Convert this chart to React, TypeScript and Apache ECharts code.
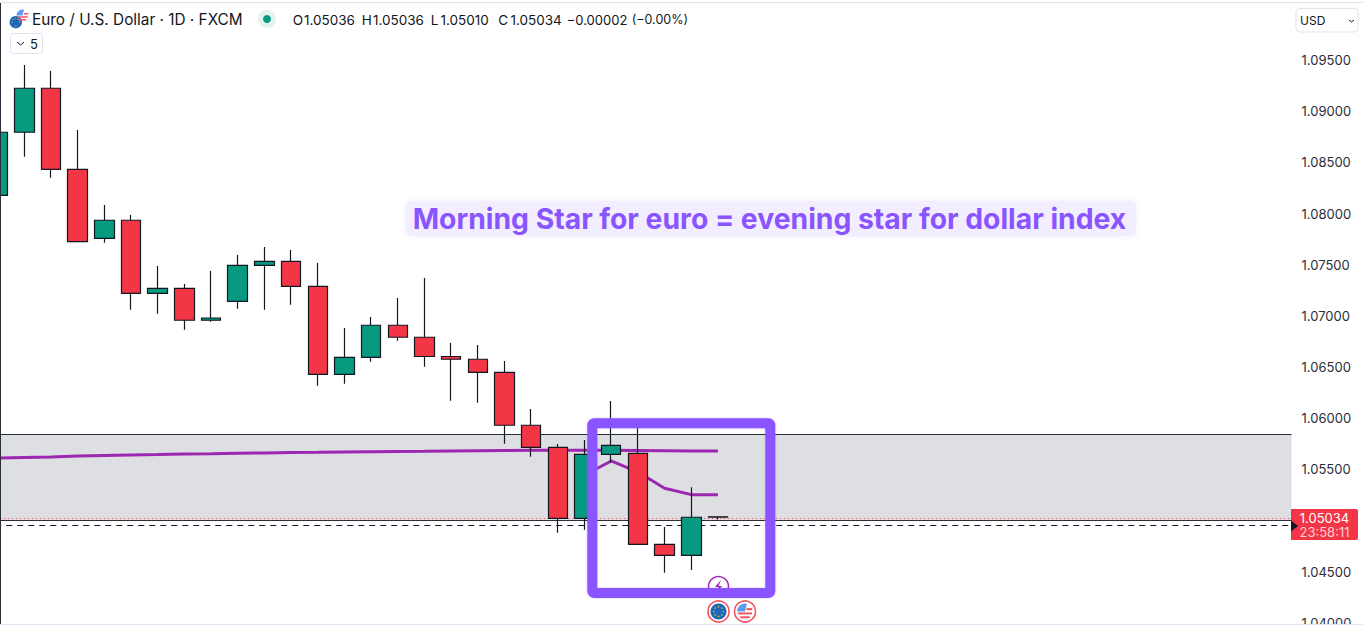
import React, { useEffect, useRef } from "react";
import * as echarts from "echarts";

const TITLE = "Euro / U.S. Dollar · 1D · FXCM";
const NOTE = "Morning Star for euro = evening star for dollar index";
const ohlcLetters = ["O", "H", "L", "C"];
const ohlcValues = ["1.05036", "1.05036", "1.05010", "1.05034"];
const CHANGE = "−0.00002";
const CHANGE_PCT = "(−0.00%)";

const opens = [1.08178, 1.08794, 1.09224, 1.08432, 1.07758, 1.07934, 1.0722, 1.07269, 1.06957, 1.07142, 1.07494, 1.07533, 1.07289, 1.06429, 1.06595, 1.06908, 1.06791, 1.06603, 1.06576, 1.06447, 1.05931, 1.05714, 1.05022, 1.05647, 1.05657, 1.04768, 1.0466, 1.05036];
const closes = [1.08794, 1.09224, 1.08432, 1.07725, 1.07934, 1.0722, 1.07269, 1.06957, 1.06979, 1.07494, 1.07533, 1.07289, 1.06429, 1.06595, 1.06908, 1.06791, 1.06603, 1.06576, 1.06447, 1.05931, 1.05714, 1.05022, 1.05647, 1.05735, 1.04768, 1.0466, 1.05032, 1.05034];
const highs = [1.0885, 1.09451, 1.09393, 1.08816, 1.08083, 1.07986, 1.07487, 1.07311, 1.07438, 1.07595, 1.07673, 1.07644, 1.07517, 1.06881, 1.06989, 1.07175, 1.0737, 1.06735, 1.06715, 1.06559, 1.0609, 1.05748, 1.05787, 1.06168, 1.05943, 1.04937, 1.05325, 1.05036];
const lows = [1.0812, 1.08555, 1.0835, 1.07725, 1.07715, 1.0706, 1.07021, 1.06865, 1.06943, 1.0707, 1.0706, 1.07109, 1.06318, 1.06337, 1.06552, 1.06757, 1.06503, 1.06171, 1.06152, 1.05751, 1.05624, 1.04881, 1.04911, 1.05565, 1.04768, 1.0449, 1.04517, 1.0501];
const slowAverage = [1.05611, 1.05616, 1.05621, 1.05631, 1.05636, 1.05641, 1.05645, 1.0565, 1.05653, 1.05657, 1.0566, 1.05665, 1.05667, 1.0567, 1.05673, 1.05675, 1.05677, 1.0568, 1.05682, 1.05684, 1.05686, 1.05687, 1.05687, 1.05687, 1.05685, 1.05683, 1.0568, 1.0568];
const fastAverage = [null, null, null, null, null, null, null, null, null, null, null, null, null, null, null, null, null, null, null, null, null, null, 1.05445, 1.05582, 1.05474, 1.05315, 1.05253, 1.05253];
const tickValues = [1.04, 1.045, 1.055, 1.06, 1.065, 1.07, 1.075, 1.08, 1.085, 1.09, 1.095];
const ZONE_TOP = 1.05846;
const ZONE_BOTTOM = 1.04998;
const DOTTED_LEVEL = 1.05027;
const DASHED_LEVEL = 1.0495;
const LAST_PRICE = "1.05034";
const COUNTDOWN = "23:58:11";
const BLANK_BARS_RIGHT = 21;

const categories = Array.from({ length: opens.length + BLANK_BARS_RIGHT }, (_, i) => `Bar ${i + 1}`);
const candleData = opens.map((o, i) => [o, closes[i], lows[i], highs[i]]);

const FONT = "Inter, 'Noto Sans', sans-serif";
const UP = "#089981";
const DOWN = "#f23645";
const INK = "#131722";
const VIOLET = "#8a55ff";
const MA = "#9c27b0";

const T = (x: number, y: number, text: string, fontSize: number, fill: string, extra: any = {}) => ({
  type: "text", x, y, z: 120, silent: true,
  style: { text, fontSize, fontFamily: FONT, fill, textVerticalAlign: "middle", ...extra },
});

function euroIcon(cx: number, cy: number, r: number) {
  const dots = [0, 1, 2, 3, 4, 5, 6, 7].map((k) => ({
    type: "circle", z: 120, silent: true,
    shape: { cx: cx + Math.cos((k * Math.PI) / 4) * r * 0.6, cy: cy + Math.sin((k * Math.PI) / 4) * r * 0.6, r: Math.max(0.5, r * 0.09) },
    style: { fill: "#e3c341" },
  }));
  return [{ type: "circle", z: 119, silent: true, shape: { cx, cy, r }, style: { fill: "#1f68b5" } }, ...dots];
}

function usIcon(cx: number, cy: number, r: number) {
  return [
    { type: "circle", z: 119, silent: true, shape: { cx, cy, r }, style: { fill: "#ffffff" } },
    { type: "sector", z: 120, silent: true, shape: { cx, cy, r, r0: 0, startAngle: Math.PI, endAngle: Math.PI * 1.5 + 0.25 }, style: { fill: "#5b9bf0" } },
    { type: "rect", z: 120, silent: true, shape: { x: cx + 1.5, y: cy - r * 0.42, width: r * 0.72, height: r * 0.26 }, style: { fill: "#f2545f" } },
    { type: "rect", z: 120, silent: true, shape: { x: cx - r * 0.88, y: cy + r * 0.12, width: r * 1.76, height: r * 0.24 }, style: { fill: "#f2545f" } },
    { type: "rect", z: 120, silent: true, shape: { x: cx - r * 0.6, y: cy + r * 0.6, width: r * 1.2, height: r * 0.24 }, style: { fill: "#f2545f" } },
  ];
}

function ring(cx: number, cy: number) {
  return [
    { type: "circle", z: 118, silent: true, shape: { cx, cy, r: 10.5 }, style: { fill: "#ffffff", stroke: "#f2545f", lineWidth: 1.6 } },
  ];
}

const graphics: any[] = [
  { type: "rect", z: 110, silent: true, shape: { x: 0, y: 2, width: 1363, height: 1 }, style: { fill: "#e0e3eb" } },
  { type: "rect", z: 110, silent: true, shape: { x: 0, y: 3, width: 1, height: 622 }, style: { fill: "#2a2e39" } },
  { type: "rect", z: 110, silent: true, shape: { x: 0, y: 624, width: 1363, height: 1 }, style: { fill: "#e6e4f5" } },

  ...usIcon(22.5, 15.5, 6),
  ...euroIcon(15.8, 22.2, 6.2),
  T(32, 19, TITLE, 15.35, INK),
  { type: "circle", z: 120, silent: true, shape: { cx: 267, cy: 19, r: 9 }, style: { fill: "#e3f3f0" } },
  { type: "circle", z: 121, silent: true, shape: { cx: 267, cy: 19, r: 4 }, style: { fill: UP } },
  T(292.7, 19.5, ohlcLetters[0], 13.5, INK),
  T(304, 19.5, ohlcValues[0], 13.5, INK),
  T(361.7, 19.5, ohlcLetters[1], 13.5, INK),
  T(373, 19.5, ohlcValues[1], 13.5, INK),
  T(430.7, 19.5, ohlcLetters[2], 13.5, INK),
  T(440.5, 19.5, ohlcValues[2], 13.5, INK),
  T(498.3, 19.5, ohlcLetters[3], 13.5, INK),
  T(510.5, 19.5, ohlcValues[3], 13.5, INK),
  T(566.7, 19.5, CHANGE, 13, INK),
  T(631.7, 19.5, CHANGE_PCT, 12.5, INK),
  { type: "rect", z: 120, silent: true, shape: { x: 10.5, y: 33.5, width: 32, height: 20, r: 3 }, style: { fill: "#fff", stroke: "#e0e3eb", lineWidth: 1 } },
  { type: "polyline", z: 121, silent: true, shape: { points: [[17, 42], [20.5, 45], [24, 42]] }, style: { stroke: INK, lineWidth: 1, fill: "none" } },
  T(30, 44, "5", 13, INK),

  { type: "rect", z: 120, silent: true, shape: { x: 1296, y: 8.5, width: 62, height: 23.5, r: 4 }, style: { fill: "#fff", stroke: "#e0e3eb", lineWidth: 1 } },
  T(1300, 20, "USD", 12, INK),
  { type: "polyline", z: 121, silent: true, shape: { points: [[1349, 20], [1351.5, 22], [1354, 20]] }, style: { stroke: INK, lineWidth: 1, fill: "none" } },

  { type: "rect", z: 100, silent: true, shape: { x: 406, y: 201, width: 730, height: 35, r: 5 }, style: { fill: "#f3eeff", shadowColor: "rgba(138,85,255,0.12)", shadowBlur: 6 } },
  T(769.5, 219, NOTE, 28.3, VIOLET, { fontWeight: 700, textAlign: "center" }),

  { type: "circle", z: 90, silent: true, shape: { cx: 718.5, cy: 586.5, r: 10 }, style: { fill: "#fff", stroke: MA, lineWidth: 1.5 } },
  { type: "polygon", z: 91, silent: true, shape: { points: [[721, 580], [715, 587], [718.5, 587], [716, 593], [722, 586], [718.5, 586]] }, style: { fill: MA } },

  { type: "rect", z: 100, silent: true, shape: { x: 592.3, y: 423.3, width: 178, height: 169.7, r: 2 }, style: { fill: "none", stroke: VIOLET, lineWidth: 10, lineJoin: "round", shadowColor: "rgba(138,85,255,0.35)", shadowBlur: 2 } },

  ...ring(718.5, 611.5),
  ...euroIcon(718.5, 611.5, 8),
  ...ring(745, 611.5),
  ...usIcon(745, 611.5, 8),

  { type: "rect", z: 115, silent: true, shape: { x: 1291, y: 509, width: 67, height: 31, r: [0, 2, 2, 0] }, style: { fill: DOWN } },
  T(1324.5, 517.8, LAST_PRICE, 13, "#ffffff", { textAlign: "center" }),
  T(1324.5, 532, COUNTDOWN, 13, "#fcd0d4", { textAlign: "center" }),
  { type: "polygon", z: 116, silent: true, shape: { points: [[1291, 520.5], [1298, 526], [1291, 531.5]] }, style: { fill: INK } },
];

const flatLine = (y: number, color: string, type: any, width = 1) => ({
  yAxis: y,
  lineStyle: { color, type, width },
});

export default function App() {
  const ref = useRef<HTMLDivElement>(null);
  useEffect(() => {
    const chart = echarts.init(ref.current!, null, { renderer: "svg" });
    chart.setOption({
      animation: false,
      backgroundColor: "#ffffff",
      textStyle: { fontFamily: FONT },
      grid: { left: -15.74, top: 0, width: 1307.3, height: 625, outerBoundsMode: "none", containLabel: false },
      xAxis: {
        type: "category",
        data: categories,
        boundaryGap: true,
        axisLine: { show: false },
        axisTick: { show: false },
        axisLabel: { show: false },
        splitLine: { show: false },
      },
      yAxis: {
        type: "value",
        position: "right",
        scale: true,
        min: 1.039793,
        max: 1.100863,
        axisLine: { show: false },
        axisTick: { show: false },
        splitLine: { show: false },
        axisLabel: {
          customValues: tickValues,
          formatter: (v: number) => v.toFixed(5),
          color: "#2a2e39",
          fontFamily: FONT,
          fontSize: 13,
          margin: 10,
        },
      },
      series: [
        {
          name: "Zone",
          type: "line",
          z: 1,
          silent: true,
          data: categories.map(() => null),
          markArea: {
            silent: true,
            itemStyle: { color: "#dedfe3" },
            data: [[{ yAxis: ZONE_TOP }, { yAxis: ZONE_BOTTOM }]],
          },
          markLine: {
            silent: true,
            symbol: "none",
            precision: 5,
            label: { show: false },
            data: [
              flatLine(ZONE_TOP, "#2a2e39", "solid"),
              flatLine(ZONE_BOTTOM, "#2a2e39", "solid"),
              flatLine(DOTTED_LEVEL, "#f23645", [1, 3]),
            ],
          },
        },
        {
          name: "Slow average",
          type: "line",
          z: 3,
          data: slowAverage,
          showSymbol: false,
          symbol: "none",
          lineStyle: { color: MA, width: 3 },
        },
        {
          name: "Fast average",
          type: "line",
          z: 3,
          data: fastAverage,
          showSymbol: false,
          symbol: "none",
          lineStyle: { color: MA, width: 3 },
        },
        {
          name: "EURUSD",
          type: "candlestick",
          z: 5,
          data: candleData,
          barWidth: 20,
          itemStyle: {
            color: UP,
            color0: DOWN,
            borderColor: INK,
            borderColor0: INK,
            borderWidth: 1.2,
          },
        },
        {
          name: "Last price",
          type: "line",
          z: 6,
          silent: true,
          data: categories.map(() => null),
          markLine: {
            silent: true,
            symbol: "none",
            precision: 5,
            label: { show: false },
            data: [flatLine(DASHED_LEVEL, INK, [6, 5])],
          },
        },
      ],
      graphic: { elements: graphics },
    });
    return () => chart.dispose();
  }, []);
  return <div ref={ref} style={{ position: "fixed", left: 0, top: 0, width: 1363, height: 625 }} />;
}
